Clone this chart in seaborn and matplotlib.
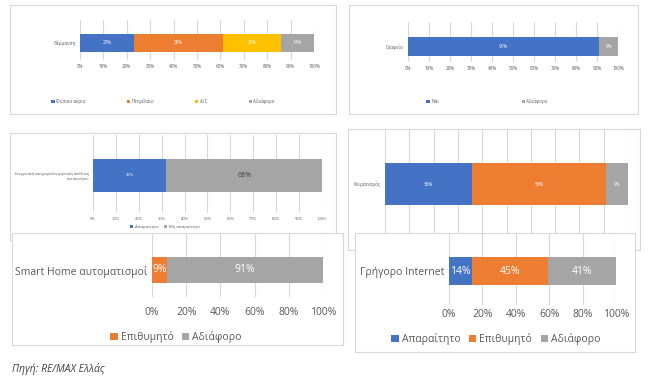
import matplotlib
matplotlib.use("Agg")
import matplotlib.pyplot as plt
from matplotlib.patches import Patch
import seaborn as sns

sns.set_style("white")
plt.rcParams['font.family'] = ['Open Sans', 'DejaVu Sans']

W, H = 665, 387

BLUE, ORANGE, YELLOW, GREY = '#4472C4', '#ED7D31', '#FFC000', '#A5A5A5'

# ---- data
heat_label = 'Θέρμανση'
heat_names = ['Φυσικό αέριο', 'Πετρέλαιο', 'A/C', 'Αδιάφορο']
heat_vals = [23, 38, 25, 14]

office_label = 'Γραφείο'
office_names = ['Ναι', 'Αδιάφορο']
office_vals = [91, 9]

energy_label = 'Ενεργειακή κατηγορία/ενεργειακή απόδοση\nτου ακινήτου'
energy_names = ['Απαραίτητο', 'Μη απαραίτητο']
energy_vals = [32, 68]

ac_label = 'Κλιματισμός'
ac_names = ['Απαραίτητο', 'Επιθυμητό', 'Αδιάφορο']
ac_vals = [36, 55, 9]

smart_label = 'Smart Home αυτοματισμοί'
smart_names = ['Επιθυμητό', 'Αδιάφορο']
smart_vals = [9, 91]

net_label = 'Γρήγορο Internet'
net_names = ['Απαραίτητο', 'Επιθυμητό', 'Αδιάφορο']
net_vals = [14, 45, 41]


def rect(x0, y0, x1, y1):
    return [x0 / W, 1 - y1 / H, (x1 - x0) / W, (y1 - y0) / H]


def panel(fig, z, box, axbox, bar_px, label, names, vals, colors, fs,
          step, legend_xy=None, legend_gap=1.0, label_colors=None, label_fs=None,
          show_ticks=True, pad=3, yfs=None):
    bx = fig.add_axes(rect(*box))
    bx.set_zorder(z)
    bx.set_xticks([]); bx.set_yticks([])
    bx.set_facecolor('white')
    for s in bx.spines.values():
        s.set_color('#D9D9D9'); s.set_linewidth(0.8)

    ax = fig.add_axes(rect(*axbox))
    ax.set_zorder(z + 1)
    ax.patch.set_alpha(0)
    ax.set_axisbelow(True)

    cum = [sum(vals[:i + 1]) for i in range(len(vals))]
    for c, col in reversed(list(zip(cum, colors))):
        sns.barplot(x=[c], y=[label], color=col, saturation=1, width=1,
                    orient='h', ax=ax, linewidth=0)

    T, B = axbox[1], axbox[3]
    bt, bb = bar_px
    ph = bb - bt
    ax.set_ylim(0.5 + (B - bb) / ph, -0.5 - (bt - T) / ph)
    ax.set_xlim(0, 100)
    ax.set_xticks(range(0, 101, step))
    ax.set_xticklabels([f'{t}%' for t in range(0, 101, step)] if show_ticks else [])
    ax.xaxis.grid(True, color='#D9D9D9', lw=0.8)
    ax.tick_params(axis='x', length=0, labelsize=fs, labelcolor='#595959', pad=pad)
    ax.tick_params(axis='y', length=0, labelsize=yfs or fs, labelcolor='#595959', pad=3)
    ax.set_xlabel(''); ax.set_ylabel('')
    for s in ax.spines.values():
        s.set_visible(False)

    start = 0
    for i, v in enumerate(vals):
        tc = label_colors[i] if label_colors else 'white'
        tf = label_fs[i] if label_fs else fs
        ax.text(start + v / 2, 0, f'{v}%', ha='center', va='center',
                color=tc, fontsize=tf)
        start += v

    if legend_xy is not None:
        handles = [Patch(facecolor=c, edgecolor='none') for c in colors]
        ax.legend(handles, names, loc='center', ncol=len(names),
                  bbox_to_anchor=(legend_xy[0] / W, 1 - legend_xy[1] / H),
                  bbox_transform=fig.transFigure, frameon=False,
                  fontsize=fs, labelcolor='#595959', handlelength=0.7,
                  handleheight=0.7, handletextpad=0.3,
                  columnspacing=legend_gap)
    return ax


fig = plt.figure(figsize=(W / 100, H / 100), dpi=100)
fig.patch.set_facecolor('white')

# top-left
panel(fig, 2, (10, 5, 336, 114), (80, 20, 314, 60), (34, 52), heat_label,
      heat_names, heat_vals, [BLUE, ORANGE, YELLOW, GREY], 3.3, 10,
      legend_xy=(163, 101), legend_gap=9)

# top-right
panel(fig, 4, (349, 5, 638, 114), (408, 22, 618, 62), (37, 56), office_label,
      office_names, office_vals, [BLUE, GREY], 3.3, 10,
      legend_xy=(487, 101), legend_gap=18)

# middle-left
panel(fig, 6, (10, 133, 336, 240), (93, 135, 322, 213), (159, 192), energy_label,
      energy_names, energy_vals, [BLUE, GREY], 3.0, 10,
      legend_xy=(165, 227), legend_gap=1.5,
      label_colors=['white', '#404040'], label_fs=[3.0, 5.0], yfs=2.6)

# middle-right
panel(fig, 8, (348, 129, 640, 250), (385, 130, 628, 245), (163, 205), ac_label,
      ac_names, ac_vals, [BLUE, ORANGE, GREY], 3.3, 10, show_ticks=False)

# bottom-left
panel(fig, 10, (12, 233, 343, 345), (152, 233, 323, 297), (257, 283), smart_label,
      smart_names, smart_vals, [ORANGE, GREY], 7.5, 20,
      legend_xy=(176, 337), legend_gap=0.8, pad=7)

# bottom-right
panel(fig, 12, (355, 233, 635, 352), (449, 233, 616, 305), (257, 285), net_label,
      net_names, net_vals, [BLUE, ORANGE, GREY], 7.5, 20,
      legend_xy=(496, 339), legend_gap=0.8, pad=3)

fig.text(12 / W, 1 - 369 / H, 'Πηγή: RE/MAX Ελλάς', fontsize=7.5,
         style='italic', color='#404040', va='center', ha='left')

fig.savefig('out.png', dpi=100, facecolor='white')
